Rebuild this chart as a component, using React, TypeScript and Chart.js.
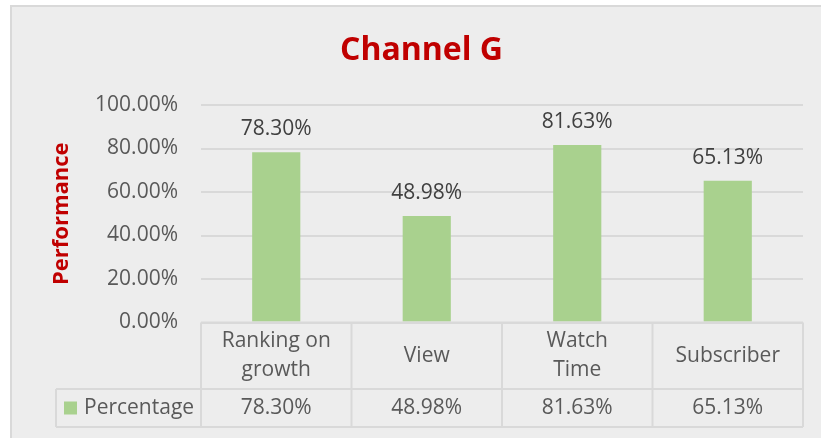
import React, { useEffect, useRef } from 'react';
import { Chart, registerables } from 'chart.js';

Chart.register(...registerables);

// ---- data ----
const categoryLines: string[][] = [['Ranking on', 'growth'], ['View'], ['Watch', 'Time'], ['Subscriber']];
const categories: string[] = categoryLines.map((l) => l.join(' '));
const seriesName = 'Percentage';
const percentages: number[] = [78.3, 48.98, 81.63, 65.13];
const yTickValues: number[] = [0, 20, 40, 60, 80, 100];
const chartTitle = 'Channel G';
const yAxisTitle = 'Performance';

// ---- style ----
const FONT = "'Open Sans', 'Noto Sans', sans-serif";
const TEXT = '#595959';
const LABEL = '#404040';
const RED = '#C00000';
const BAR = '#A9D18E';
const LINE = '#d9d9d9';
const BG = '#ededed';

const fmt = (v: number) => v.toFixed(2) + '%';

const backgroundPlugin = {
  id: 'frameBg',
  beforeDraw(chart: any) {
    const { ctx, width, height } = chart;
    ctx.save();
    ctx.fillStyle = '#ffffff';
    ctx.fillRect(0, 0, width, height);
    ctx.fillStyle = BG;
    ctx.fillRect(10, 5, width - 10, height - 5);
    ctx.strokeStyle = LINE;
    ctx.lineWidth = 2;
    ctx.beginPath();
    ctx.moveTo(11, height);
    ctx.lineTo(11, 6);
    ctx.lineTo(width, 6);
    ctx.stroke();
    ctx.restore();
  },
};

const valueLabelPlugin = {
  id: 'valueLabels',
  afterDatasetsDraw(chart: any) {
    const { ctx } = chart;
    const meta = chart.getDatasetMeta(0);
    ctx.save();
    ctx.font = `21px ${FONT}`;
    ctx.fillStyle = LABEL;
    ctx.textAlign = 'center';
    ctx.textBaseline = 'alphabetic';
    meta.data.forEach((bar: any, i: number) => {
      ctx.fillText(fmt(percentages[i]), bar.x, bar.y - 17);
    });
    ctx.restore();
  },
};

const dataTablePlugin = {
  id: 'dataTable',
  afterDraw(chart: any) {
    const { ctx, chartArea } = chart;
    const x = chart.scales.x;
    const top = chartArea.bottom;
    const rowMid = 389;
    const rowBottom = 427;
    const tableLeft = 56;
    const step = (chartArea.right - chartArea.left) / categories.length;

    ctx.save();
    ctx.strokeStyle = LINE;
    ctx.lineWidth = 2;
    ctx.beginPath();
    ctx.moveTo(chartArea.left, top);
    ctx.lineTo(chartArea.right, top);
    ctx.moveTo(tableLeft, rowMid);
    ctx.lineTo(chartArea.right, rowMid);
    ctx.moveTo(tableLeft, rowBottom);
    ctx.lineTo(chartArea.right, rowBottom);
    ctx.moveTo(tableLeft, rowMid);
    ctx.lineTo(tableLeft, rowBottom);
    for (let i = 0; i <= categories.length; i++) {
      const cx = i < categories.length ? x.getPixelForValue(i) - step / 2 : x.getPixelForValue(i - 1) + step / 2;
      ctx.moveTo(cx, top);
      ctx.lineTo(cx, rowBottom);
    }
    ctx.stroke();

    ctx.font = `21px ${FONT}`;
    ctx.fillStyle = TEXT;
    ctx.textAlign = 'center';
    ctx.textBaseline = 'middle';
    const catMid = (top + rowMid) / 2;
    const lh = 29;
    categoryLines.forEach((lines, i) => {
      const cx = x.getPixelForValue(i);
      const y0 = catMid - ((lines.length - 1) * lh) / 2;
      lines.forEach((line, j) => ctx.fillText(line, cx, y0 + j * lh));
    });
    const dataMid = (rowMid + rowBottom) / 2;
    percentages.forEach((v, i) => {
      ctx.fillText(fmt(v), x.getPixelForValue(i), dataMid);
    });

    ctx.fillStyle = BAR;
    ctx.fillRect(64, dataMid - 6.5, 13, 13);
    ctx.fillStyle = TEXT;
    ctx.textAlign = 'left';
    ctx.fillText(seriesName, 84, dataMid);
    ctx.restore();
  },
};

export default function App() {
  const ref = useRef<HTMLCanvasElement>(null);

  useEffect(() => {
    const canvas = ref.current;
    if (!canvas) return;
    const chart = new Chart(canvas, {
      type: 'bar',
      data: {
        labels: categories,
        datasets: [
          {
            label: seriesName,
            data: percentages,
            backgroundColor: BAR,
            borderWidth: 0,
            barPercentage: 0.32,
            categoryPercentage: 1,
          },
        ],
      },
      options: {
        responsive: false,
        animation: false,
        layout: { padding: { top: 31.4, left: 40, right: 18, bottom: 115.5 } },
        plugins: {
          legend: { display: false },
          tooltip: { enabled: false },
          title: {
            display: true,
            text: chartTitle,
            color: RED,
            font: { family: FONT, size: 32, weight: 'bold', lineHeight: 1.2 },
            padding: { top: 0, bottom: 35.2 },
          },
        },
        scales: {
          x: { display: false },
          y: {
            min: 0,
            max: 100,
            afterFit: (scale: any) => {
              scale.width = 161;
            },
            afterBuildTicks: (scale: any) => {
              scale.ticks = yTickValues.map((v) => ({ value: v }));
            },
            ticks: {
              callback: (v: any) => fmt(Number(v)),
              color: TEXT,
              font: { family: FONT, size: 21 },
              padding: 23,
            },
            grid: { color: LINE, lineWidth: 2, drawTicks: false },
            border: { display: false },
            title: {
              display: true,
              text: yAxisTitle,
              color: RED,
              font: { family: FONT, size: 22, weight: 'bold', lineHeight: 1.2 },
              padding: { top: 8.8, bottom: 0 },
            },
          },
        },
      },
      plugins: [backgroundPlugin, valueLabelPlugin, dataTablePlugin],
    });
    return () => chart.destroy();
  }, []);

  return (
    <div style={{ position: 'fixed', left: 0, top: 0, width: 821, height: 438, background: '#fff' }}>
      <canvas ref={ref} width={821} height={438} style={{ display: 'block', width: 821, height: 438 }} />
    </div>
  );
}
